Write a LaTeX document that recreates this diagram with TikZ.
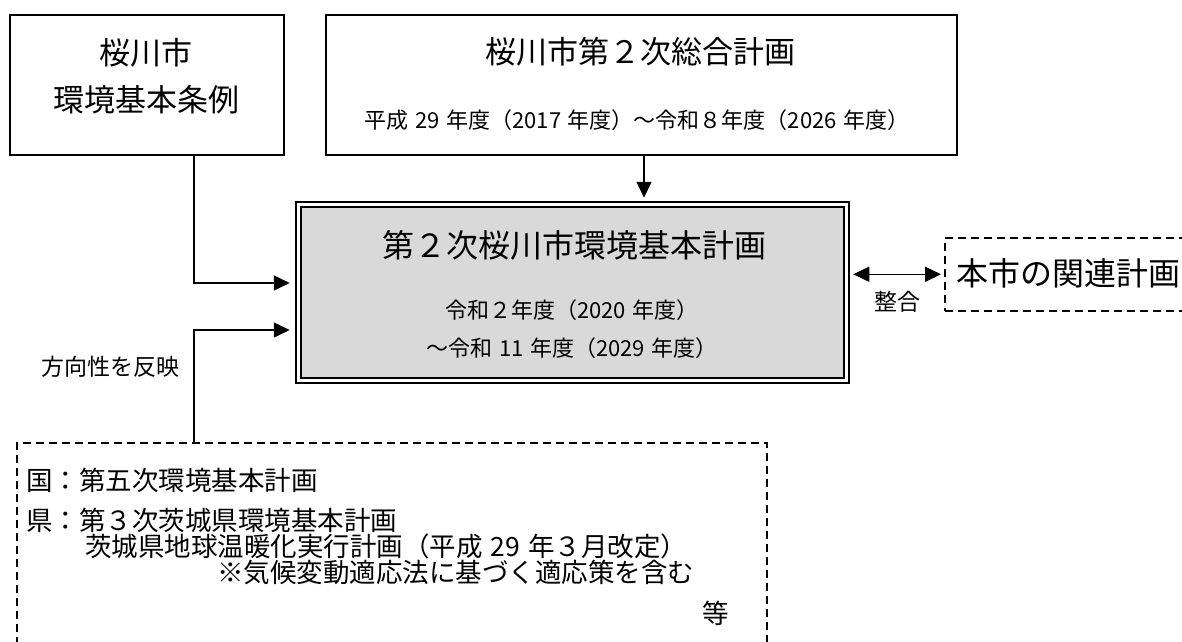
\documentclass[tikz,border=0pt]{standalone}
\usepackage{fontspec}
\setmainfont{Noto Sans CJK JP}
\usetikzlibrary{arrows.meta}
\definecolor{mainfill}{HTML}{D9D9D9}
\newcommand{\hs}{\hspace{0.3em}}
\begin{document}
\begin{tikzpicture}[x=1pt,y=-1pt,
  box/.style={draw,line width=2pt,rectangle,inner sep=0pt,anchor=north west},
  dbox/.style={draw,line width=1.5pt,dash pattern=on 8pt off 5pt,rectangle,inner sep=0pt,anchor=north west},
  conn/.style={line width=1.5pt,-{Triangle[length=16pt,width=15pt]}},
  dconn/.style={line width=1.5pt,{Triangle[length=16pt,width=15pt]}-{Triangle[length=16pt,width=15pt]}},
  txt/.style={inner sep=0pt,font=\fontsize{#1}{#1}\selectfont},
  txt/.default=22
]
\useasboundingbox (0,0) rectangle (1182,641);
\clip (0,0) rectangle (1182,641);

% top-left box
\node[box,minimum width=274pt,minimum height=140pt] (A) at (9,14) {};
\node[txt=31] (a1) at (146,53) {桜川市};
\node[txt=31] (a2) at (146,100) {環境基本条例};

% top box
\node[box,minimum width=631pt,minimum height=140pt] (B) at (325,14) {};
\node[txt=31] (b1) at (640,52) {桜川市第２次総合計画};
\node[txt=22] (b2) at (637,120) {平成\hs{}29\hs{}年度（2017\hs{}年度）～令和８年度（2026\hs{}年度）};

% main box (double border)
\node[draw,line width=2.5pt,fill=white,minimum width=553pt,minimum height=181pt,inner sep=0pt] (mainout) at (572.5,292.5) {};
\node[draw,line width=1.2pt,fill=mainfill,minimum width=543pt,minimum height=171pt,inner sep=0pt] (mainin) at (572.5,292.5) {};
\node[txt=32] (m1) at (574,245) {第２次桜川市環境基本計画};
\node[txt=22] (m2) at (572,310) {令和２年度（2020\hs{}年度）};
\node[txt=22] (m3) at (572,348) {～令和\hs{}11\hs{}年度（2029\hs{}年度）};

% right dashed box
\node[dbox,minimum width=260pt,minimum height=73pt] (rel) at (944,237) {};
\node[txt=32,anchor=west] (reltxt) at (956,273.5) {本市の関連計画};
\node[txt=23] (seigo) at (897,302) {整合};

% bottom dashed box
\node[dbox,minimum width=750pt,minimum height=230pt] (bot) at (16,442) {};
\node[txt=26.5,anchor=west] (l1) at (26,480) {国：第五次環境基本計画};
\node[txt=26.5,anchor=west] (l2) at (26,520) {県：第３次茨城県環境基本計画};
\node[txt=26.5,anchor=west] (l3) at (85,546) {茨城県地球温暖化実行計画（平成\hs{}29\hs{}年３月改定）};
\node[txt=26.5,anchor=west] (l4) at (217,572) {※気候変動適応法に基づく適応策を含む};
\node[txt=26.5] (l5) at (716,613) {等};

\node[txt=23] (hoko) at (110,367) {方向性を反映};

% connectors
\draw[conn,shorten >=5pt] ([xshift=47pt]A.south) |- ([yshift=9.5pt]mainout.west);
\draw[conn,shorten >=5pt] ([xshift=-198pt]bot.north) |- ([yshift=-37.5pt]mainout.west);
\draw[conn,shorten >=3pt] ([xshift=2.5pt]B.south) -- ([xshift=2.5pt]B.south |- mainout.north);
\draw[dconn,shorten >=3pt,shorten <=3pt] (rel.west -| mainout.east) -- (rel.west);
\end{tikzpicture}
\end{document}
